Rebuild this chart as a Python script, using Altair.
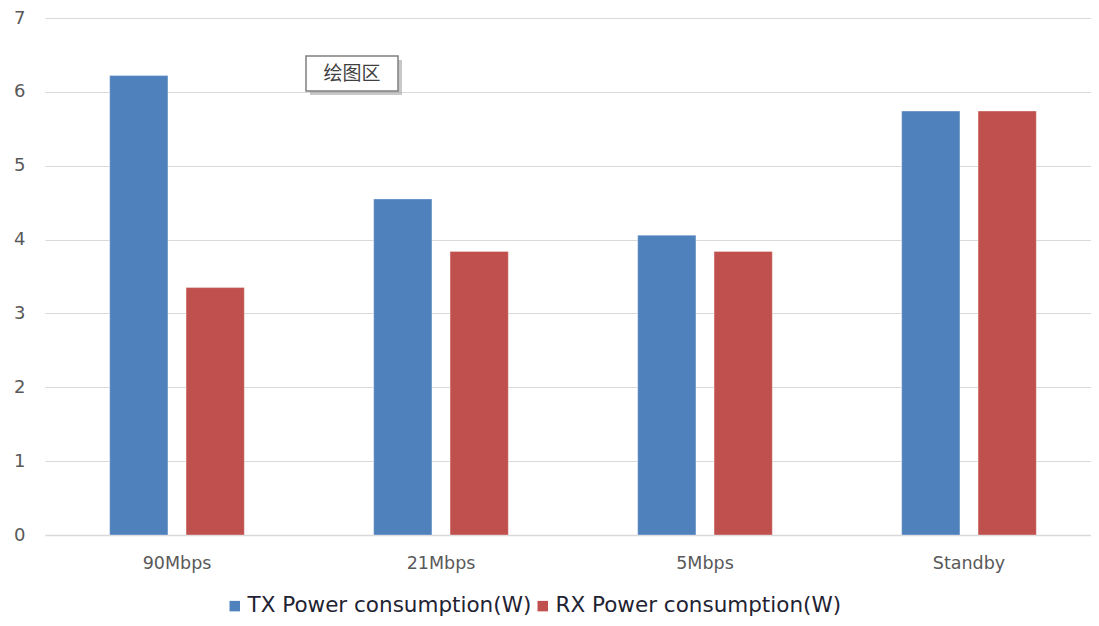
import altair as alt
import pandas as pd

categories = ["90Mbps", "21Mbps", "5Mbps", "Standby"]
tx_values = [6.22, 4.55, 4.06, 5.74]
rx_values = [3.35, 3.84, 3.84, 5.74]
series = ["TX Power consumption(W)", "RX Power consumption(W)"]
colors = ["#4F81BD", "#C0504D"]
y_ticks = [0, 1, 2, 3, 4, 5, 6, 7]
tooltip_label = ["绘图区"]

rows = []
for c, t, r in zip(categories, tx_values, rx_values):
    rows.append({"cat": c, "series": series[0], "value": t})
    rows.append({"cat": c, "series": series[1], "value": r})
df = pd.DataFrame(rows)

FONT = "DejaVu Sans"

bars = alt.Chart(df).mark_bar(strokeWidth=1, strokeOpacity=0.35, stroke="white").encode(
    x=alt.X("cat:N", sort=categories, title=None,
            scale=alt.Scale(paddingInner=0.49, paddingOuter=0.245, range=[0, 1056]),
            axis=alt.Axis(labelAngle=0, labelFontSize=17.5, labelColor="#595959",
                          labelFont=FONT, ticks=False, domainColor="#d9d9d9",
                          domainWidth=1.5, labelPadding=19, grid=False)),
    xOffset=alt.XOffset("series:N", sort=series,
                        scale=alt.Scale(paddingInner=0.237, paddingOuter=0)),
    y=alt.Y("value:Q", title=None,
            scale=alt.Scale(domain=[0, 7], nice=False),
            axis=alt.Axis(values=y_ticks, labelFontSize=18, labelColor="#595959",
                          labelFont=FONT, ticks=False, domain=False,
                          gridColor="#d9d9d9", gridWidth=1.2, labelPadding=20)),
    color=alt.Color("series:N", sort=series,
                    scale=alt.Scale(domain=series, range=colors),
                    legend=alt.Legend(title=None, orient="none", direction="horizontal",
                                      legendX=179, legendY=577,
                                      symbolType="square", symbolSize=110,
                                      symbolStrokeWidth=0,
                                      labelFontSize=21.5, labelFont=FONT,
                                      labelColor="#1f2333", labelOffset=2,
                                      columnPadding=0, labelLimit=400)),
)

tip_df = pd.DataFrame({"t": tooltip_label})
shadow = alt.Chart(tip_df).mark_rect(color="#9a9a9a", opacity=0.55).encode(
    x=alt.value(265), x2=alt.value(357), y=alt.value(42), y2=alt.value(77)
)
box = alt.Chart(tip_df).mark_rect(fill="white", stroke="#7f7f7f", strokeWidth=1.5).encode(
    x=alt.value(261), x2=alt.value(353), y=alt.value(38), y2=alt.value(73)
)
tip_text = alt.Chart(tip_df).mark_text(font="Noto Sans CJK SC", fontSize=19,
                                       color="#404040").encode(
    x=alt.value(307), y=alt.value(55.5), text="t:N"
)

chart = alt.layer(bars, shadow, box, tip_text).properties(
    width=1046, height=517,
    autosize=alt.AutoSizeParams(type="none"),
    padding={"left": 37, "top": 10, "right": 0, "bottom": 83},
    background="white",
).configure_view(stroke=None)

chart.save("out.html", embed_options={"renderer": "svg", "actions": False})
